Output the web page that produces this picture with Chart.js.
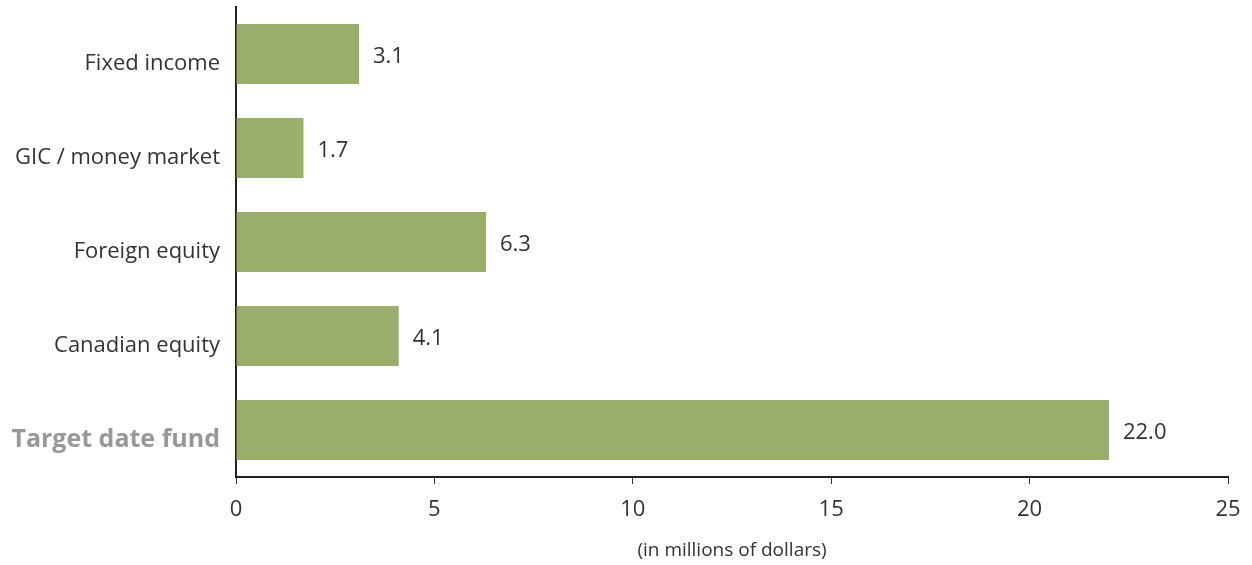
<!DOCTYPE html>
<html>
<head>
<meta charset="utf-8">
<script src="https://cdn.jsdelivr.net/npm/chart.js@4"></script>
<style>
  html, body { margin: 0; padding: 0; background: #fff; }
  #wrap { width: 1252px; height: 565px; }
</style>
</head>
<body>
<div id="wrap"><canvas id="fundChart"></canvas></div>
<script>
// --- data ---
const categories = ['Fixed income', 'GIC / money market', 'Foreign equity', 'Canadian equity', 'Target date fund'];
const amounts = [3.1, 1.7, 6.3, 4.1, 22.0];
const xTicks = [0, 5, 10, 15, 20, 25];
const xTitle = '(in millions of dollars)';

const FONT = "'Open Sans', 'Noto Sans', sans-serif";
const TEXT = '#333333';

// value labels at the end of each bar
const valueLabels = {
  id: 'valueLabels',
  afterDatasetsDraw(chart) {
    const c = chart.ctx;
    const meta = chart.getDatasetMeta(0);
    c.save();
    c.font = '22px ' + FONT;
    c.fillStyle = TEXT;
    c.textAlign = 'left';
    c.textBaseline = 'middle';
    meta.data.forEach(function (bar, i) {
      c.fillText(amounts[i].toFixed(1), bar.x + 14, bar.y + 3);
    });
    c.restore();
  }
};

new Chart(document.getElementById('fundChart'), {
  type: 'bar',
  data: {
    labels: categories,
    datasets: [{
      data: amounts,
      backgroundColor: '#98ae6a',
      borderWidth: 0,
      categoryPercentage: 1,
      barPercentage: 0.64
    }]
  },
  options: {
    indexAxis: 'y',
    responsive: true,
    maintainAspectRatio: false,
    animation: false,
    layout: { padding: { top: 7, right: 24, left: 0, bottom: 0 } },
    plugins: {
      legend: { display: false },
      tooltip: { enabled: false }
    },
    scales: {
      x: {
        min: 0,
        max: 25,
        afterBuildTicks: function (scale) {
          scale.ticks = xTicks.map(function (v) { return { value: v }; });
        },
        afterFit: function (scale) {
          scale.height = 88;
          scale.paddingLeft = 0;
          scale.paddingRight = 0;
        },
        grid: {
          drawOnChartArea: false,
          drawTicks: true,
          tickLength: 7,
          color: '#333333',
          lineWidth: 1
        },
        border: { display: true, color: '#222222', width: 2 },
        ticks: {
          color: TEXT,
          font: { family: FONT, size: 22 },
          padding: 13,
          maxRotation: 0
        },
        title: {
          display: true,
          text: xTitle,
          color: TEXT,
          font: { family: FONT, size: 19 },
          padding: { top: 4, bottom: 3 }
        }
      },
      y: {
        afterFit: function (scale) {
          scale.width = 236;
          scale.paddingTop = 0;
          scale.paddingBottom = 0;
        },
        grid: { display: false, drawTicks: false },
        border: { display: true, color: '#222222', width: 2 },
        ticks: {
          padding: 16,
          labelOffset: 10,
          color: function (ctx) { return ctx.index === 4 ? '#98989a' : TEXT; },
          font: function (ctx) {
            return ctx.index === 4
              ? { family: FONT, size: 25, weight: 'bold' }
              : { family: FONT, size: 22 };
          }
        }
      }
    }
  },
  plugins: [valueLabels]
});
</script>
</body>
</html>
